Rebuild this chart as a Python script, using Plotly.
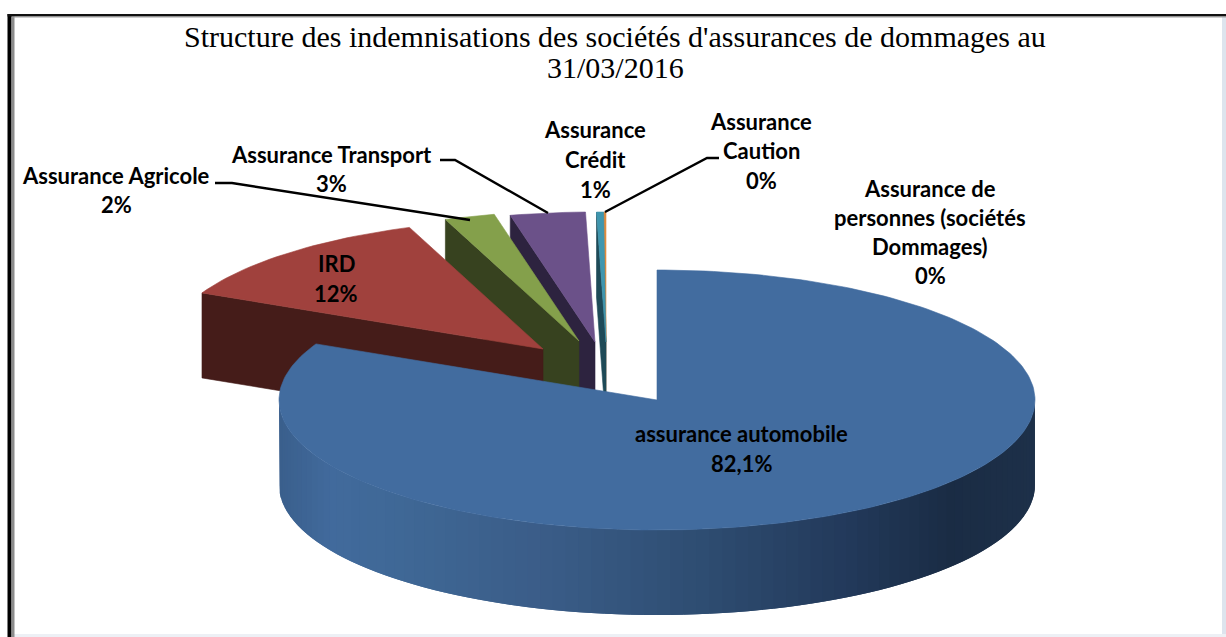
import math
import plotly.graph_objects as go

# ---------- data ----------
title_lines = ["Structure des indemnisations des sociétés d'assurances de dommages au", "31/03/2016"]
categories = ["assurance automobile", "IRD", "Assurance Agricole", "Assurance Transport",
              "Assurance Crédit", "Assurance Caution", "Assurance de personnes (sociétés Dommages)"]
values = [82.1, 12.15, 2.15, 3.2, 0.3, 0.1, 0.0]
label_lines = [["assurance automobile", "82,1%"], ["IRD", "12%"], ["Assurance Agricole", "2%"],
               ["Assurance Transport", "3%"], ["Assurance", "Crédit", "1%"], ["Assurance", "Caution", "0%"],
               ["Assurance de", "personnes (sociétés", "Dommages)", "0%"]]

# ---------- styles / layout geometry ----------
top_colors = ["#426C9F", "#A0413D", "#84A04B", "#6B5189", "#3F96AE", "#E08A3C", "#8FA8D0"]
wall_colors = ["#1B2E45", "#451C19", "#37421F", "#2D233F", "#1E4A57", "#7A4A1E", "#4A5A70"]
CX, CY, RX, RY, DEPTH = 657, 400, 378, 130, 85
explode = [(0, 0), (-114, -51), (-78, -59), (-62, -58), (-51, -58), (-51, -58), (-51, -58)]
label_pos = [(741, 433, 30), (336, 263, 30), (116, 175, 29), (331, 154, 29),
             (595, 129, 30), (761, 121, 29.5), (930, 188, 29.3)]
gradient_stops = [(279, (58, 95, 140)), (330, (65, 106, 156)), (400, (63, 104, 150)), (550, (58, 92, 135)),
                  (700, (46, 77, 114)), (850, (34, 57, 90)), (950, (26, 44, 68)), (1035, (29, 48, 73))]
leaders = [[(215, 183), (232, 183), (470, 220)], [(440, 160), (455, 160), (548, 213)],
           [(605, 212), (707, 158), (719, 158)]]
FONT = "Lato"


def pt(ax, ay, deg, dz=0):
    r = math.radians(deg)
    return ax + RX * math.sin(r), ay - RY * math.cos(r) + dz


def grad(x):
    for (x0, c0), (x1, c1) in zip(gradient_stops, gradient_stops[1:]):
        if x <= x1:
            t = max(0, (x - x0) / (x1 - x0))
            return "rgb(%d,%d,%d)" % tuple(round(a + (b - a) * t) for a, b in zip(c0, c1))
    return "rgb(%d,%d,%d)" % gradient_stops[-1][1]


fig = go.Figure()


def poly(points, color, lw=0.6):
    fig.add_trace(go.Scatter(x=[p[0] for p in points] + [points[0][0]],
                             y=[p[1] for p in points] + [points[0][1]],
                             mode="lines", fill="toself", fillcolor=color,
                             line=dict(color=color, width=lw),
                             hoverinfo="skip", showlegend=False))


# sector angles, clockwise from twelve o'clock
total = sum(values)
angles = [0]
for v in values:
    angles.append(angles[-1] + 360 * v / total)

# draw back to front: smallest slices first, automobile last
for i in range(len(values) - 1, 0, -1):
    if values[i] <= 0:
        continue
    ax, ay = CX + explode[i][0], CY + explode[i][1]
    a0, a1 = angles[i], angles[i + 1]
    outer = pt(ax, ay, a0)
    poly([outer, (ax, ay), (ax, ay + DEPTH), (outer[0], outer[1] + DEPTH)], wall_colors[i])
    n = max(2, int((a1 - a0) / 1.5))
    arc = [pt(ax, ay, a0 + (a1 - a0) * k / n) for k in range(n + 1)]
    poly([(ax, ay)] + arc, top_colors[i])

# automobile: front wall with gradient (each strip runs under the next, no seams), then its top face
a0, a1 = angles[0], angles[1]
step = 2.0
d = 90.0
while d < 270:
    pts_top = [pt(CX, CY, d + step * k / 4) for k in range(9) if d + step * k / 4 <= 270]
    poly(pts_top + [(p[0], p[1] + DEPTH) for p in reversed(pts_top)], grad(pt(CX, CY, d + step / 2)[0]), lw=0)
    d += step
n = 240
arc = [pt(CX, CY, a0 + (a1 - a0) * k / n) for k in range(n + 1)]
poly([(CX, CY)] + arc, top_colors[0])

# leader lines
for seg in leaders:
    fig.add_trace(go.Scatter(x=[p[0] for p in seg], y=[p[1] for p in seg], mode="lines",
                             line=dict(color="black", width=2.4), hoverinfo="skip", showlegend=False))

# data labels
for lines, (lx, ly, lh) in zip(label_lines, label_pos):
    for k, txt in enumerate(lines):
        fig.add_annotation(x=lx, y=ly + k * lh, xref="x", yref="y", text="<b>%s</b>" % txt, showarrow=False,
                           font=dict(family=FONT, size=22, color="black"), xanchor="center", yanchor="middle")

# chart title
for k, txt in enumerate(title_lines):
    fig.add_annotation(x=615, y=36 + k * 31, xref="x", yref="y", text=txt, showarrow=False,
                       font=dict(family="Liberation Serif", size=30, color="black"),
                       xanchor="center", yanchor="middle")

# picture frame
frame = [
    dict(x0=1222, x1=1226, y0=17, y1=637, fillcolor="#DDE4EE"),
    dict(x0=12, x1=1226, y0=634, y1=637, fillcolor="#EDF0F5"),
    dict(x0=12, x1=14.5, y0=16, y1=637, fillcolor="#8C8C8C"),
    dict(x0=7.5, x1=11.5, y0=14, y1=637, fillcolor="#000000"),
    dict(x0=7.5, x1=1226, y0=14, y1=16.5, fillcolor="#111111"),
    dict(x0=12, x1=1226, y0=16.5, y1=17.5, fillcolor="#A0A0A0"),
]
for f in frame:
    fig.add_shape(type="rect", xref="x", yref="y", line_width=0, layer="above", **f)

fig.update_layout(
    width=1226, height=637, autosize=False,
    margin=dict(l=0, r=0, t=0, b=0), paper_bgcolor="white", plot_bgcolor="white",
    xaxis=dict(range=[0, 1226], visible=False, fixedrange=True),
    yaxis=dict(range=[637, 0], visible=False, fixedrange=True),
    showlegend=False,
)
fig.write_html("out.html", config={"displayModeBar": False},
               post_script="document.body.style.margin='0';document.body.style.overflow='hidden';")
